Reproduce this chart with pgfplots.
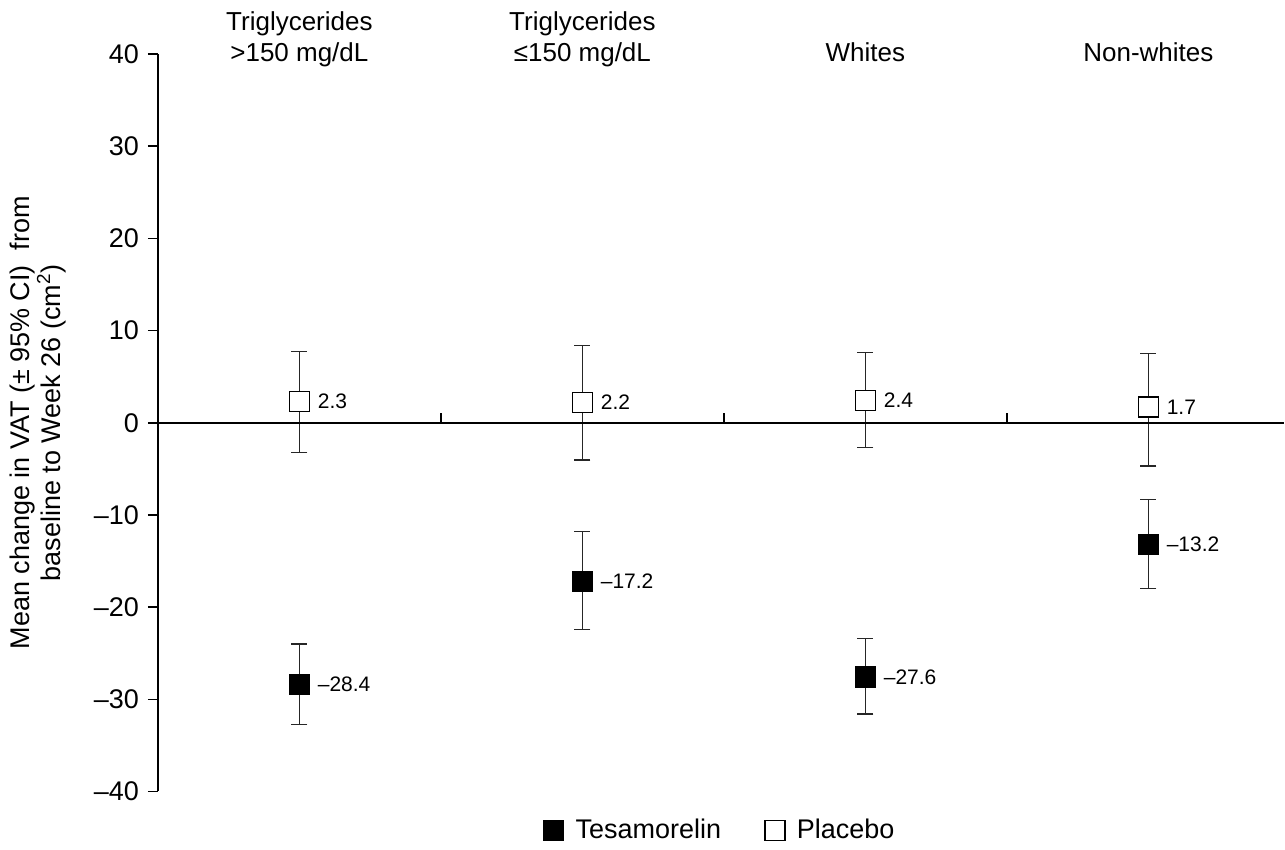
\documentclass[border=0pt]{standalone}
\usepackage{fontspec}
\setmainfont{Liberation Sans}
\usepackage{pgfplots}
\pgfplotsset{compat=1.18}
\begin{document}
\begin{tikzpicture}
\begin{axis}[
  scale only axis,
  width=563.5pt, height=369pt,
  xmin=0, xmax=3.98,
  ymin=-40, ymax=40,
  axis x line=none,
  axis y line*=left,
  axis line style={-, line width=0.8pt},
  ytick={-40,-30,...,40},
  yticklabels={–40,–30,–20,–10,0,10,20,30,40},
  y tick label style={font=\fontsize{13.5}{16}\selectfont},
  tick align=outside,
  major tick length=5pt,
  tick style={line width=0.8pt, black},
  yticklabel style={xshift=-1pt},
  ylabel={Mean change in VAT (± 95\% CI)\ \ from\\baseline to Week 26 (cm\textsuperscript{2})},
  ylabel style={align=center, font=\fontsize{13.5}{14}\selectfont},
  ylabel shift=7pt,
  clip=false,
  legend style={at={(0.5,0)}, anchor=center, yshift=-19.5pt, draw=none,
    font=\fontsize{13.5}{16}\selectfont, column sep=4pt,
    /tikz/column 2/.style={column sep=20pt}},
  legend columns=2,
  legend cell align=left,
  nodes near coords={\pgfplotspointmeta},
  point meta=explicit symbolic,
  every node near coord/.style={anchor=west, xshift=5.5pt, font=\fontsize{10.5}{12}\selectfont, text=black},
]
\addplot[only marks, mark=square*, mark size=5pt, mark options={fill=black, draw=black, line width=0.8pt},
  error bars/.cd, y dir=both, y explicit,
  error bar style={line width=0.7pt, black!85},
  error mark options={rotate=90, mark size=4pt, line width=0.7pt, black!85}]
coordinates {
  (0.5,-28.4) += (0,4.4) -= (0,4.3) [–28.4]
  (1.5,-17.2) += (0,5.4) -= (0,5.2) [–17.2]
  (2.5,-27.6) += (0,4.2) -= (0,4.0) [–27.6]
  (3.5,-13.2) += (0,4.9) -= (0,4.8) [–13.2]
};
\addlegendentry{Tesamorelin}
\addplot[only marks, mark=square*, mark size=5pt, mark options={fill=white, draw=black, line width=0.8pt},
  error bars/.cd, y dir=both, y explicit,
  error bar style={line width=0.7pt, black!85},
  error mark options={rotate=90, mark size=4pt, line width=0.7pt, black!85}]
coordinates {
  (0.5,2.3) += (0,5.4) -= (0,5.5) [2.3]
  (1.5,2.2) += (0,6.2) -= (0,6.25) [2.2]
  (2.5,2.4) += (0,5.2) -= (0,5.1) [2.4]
  (3.5,1.7) += (0,5.8) -= (0,6.4) [1.7]
};
\addlegendentry{Placebo}
\draw[line width=0.8pt] (axis cs:0,0) -- (axis cs:3.98,0);
\draw[line width=0.8pt] (axis cs:1,0) -- ([yshift=5pt]axis cs:1,0);
\draw[line width=0.8pt] (axis cs:2,0) -- ([yshift=5pt]axis cs:2,0);
\draw[line width=0.8pt] (axis cs:3,0) -- ([yshift=5pt]axis cs:3,0);
% markers redrawn on top of the error bars and the zero line
\addplot[only marks, mark=square*, mark size=5pt, mark options={fill=black, draw=black, line width=0.8pt}, nodes near coords={}, forget plot]
coordinates {(0.5,-28.4) (1.5,-17.2) (2.5,-27.6) (3.5,-13.2)};
\addplot[only marks, mark=square*, mark size=5pt, mark options={fill=white, draw=black, line width=0.8pt}, nodes near coords={}, forget plot]
coordinates {(0.5,2.3) (1.5,2.2) (2.5,2.4) (3.5,1.7)};
\node[anchor=base, font=\fontsize{13}{16}\selectfont] at ([yshift=11.5pt]axis cs:0.5,40) {Triglycerides};
\node[anchor=base, font=\fontsize{13}{16}\selectfont] at ([yshift=-4pt]axis cs:0.5,40) {>150 mg/dL};
\node[anchor=base, font=\fontsize{13}{16}\selectfont] at ([yshift=11.5pt]axis cs:1.5,40) {Triglycerides};
\node[anchor=base, font=\fontsize{13}{16}\selectfont] at ([yshift=-4pt]axis cs:1.5,40) {≤150 mg/dL};
\node[anchor=base, font=\fontsize{13}{16}\selectfont] at ([yshift=-4pt]axis cs:2.5,40) {Whites};
\node[anchor=base, font=\fontsize{13}{16}\selectfont] at ([yshift=-4pt]axis cs:3.5,40) {Non-whites};
\path ([xshift=-79pt,yshift=-26.5pt]rel axis cs:0,0) rectangle ([yshift=27pt]rel axis cs:1,1);
\end{axis}
\end{tikzpicture}
\end{document}
